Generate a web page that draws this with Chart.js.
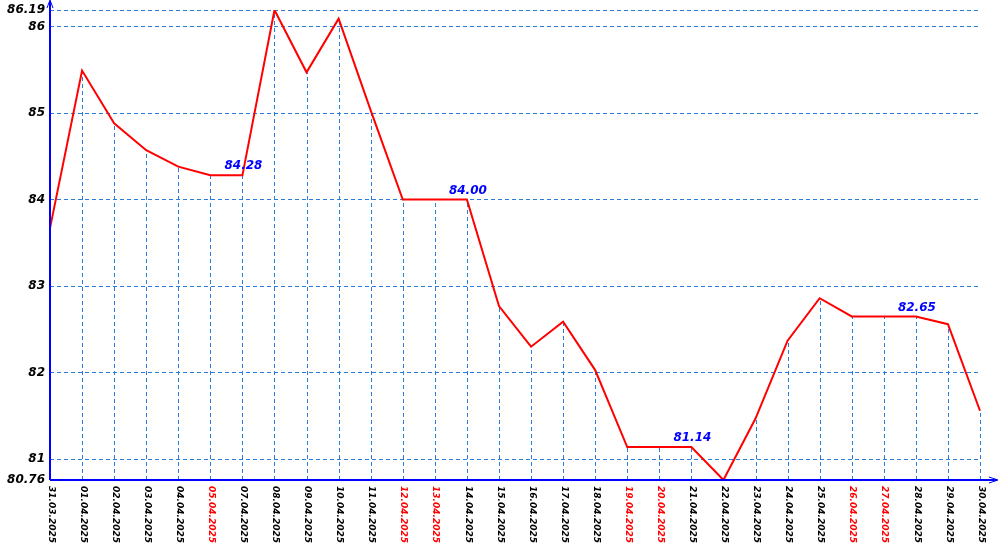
<!DOCTYPE html>
<html>
<head>
<meta charset="utf-8">
<script src="https://cdn.jsdelivr.net/npm/chart.js@4"></script>
<style>
  body { margin: 0; background: #fff; }
  #wrap { width: 1000px; height: 550px; }
</style>
</head>
<body>
<div id="wrap"><canvas id="myChart"></canvas></div>
<script>
const dates = ["31.03.2025", "01.04.2025", "02.04.2025", "03.04.2025", "04.04.2025", "05.04.2025",
  "07.04.2025", "08.04.2025", "09.04.2025", "10.04.2025", "11.04.2025", "12.04.2025", "13.04.2025",
  "14.04.2025", "15.04.2025", "16.04.2025", "17.04.2025", "18.04.2025", "19.04.2025", "20.04.2025",
  "21.04.2025", "22.04.2025", "23.04.2025", "24.04.2025", "25.04.2025", "26.04.2025", "27.04.2025",
  "28.04.2025", "29.04.2025", "30.04.2025"];
const rates = [83.67, 85.49, 84.88, 84.57, 84.38, 84.28,
  84.28, 86.19, 85.47, 86.09, 85.03, 84.00, 84.00,
  84.00, 82.77, 82.30, 82.59, 82.03, 81.14, 81.14,
  81.14, 80.76, 81.47, 82.37, 82.86, 82.65, 82.65,
  82.65, 82.56, 81.56];
const holidays = ["05.04.2025", "12.04.2025", "13.04.2025", "19.04.2025", "20.04.2025", "26.04.2025", "27.04.2025"];
const marked = ["07.04.2025", "14.04.2025", "21.04.2025", "28.04.2025"];
const yTicks = [80.76, 81, 82, 83, 84, 85, 86, 86.19];

const gridBlue = "#2a7ddc";
const axisBlue = "#0000ff";
const fontFam = "'DejaVu Sans', Verdana, sans-serif";

const extras = {
  id: "extras",
  beforeDatasetsDraw(chart) {
    const ctx = chart.ctx;
    const xs = chart.scales.x, ys = chart.scales.y;
    const bottom = chart.chartArea.bottom;
    ctx.save();
    ctx.strokeStyle = gridBlue;
    ctx.lineWidth = 1;
    ctx.setLineDash([4, 3]);
    rates.forEach((v, i) => {
      const x = Math.round(xs.getPixelForValue(i)) + 0.5;
      ctx.beginPath();
      ctx.moveTo(x, bottom);
      ctx.lineTo(x, ys.getPixelForValue(v));
      ctx.stroke();
    });
    ctx.restore();
  },
  afterDatasetsDraw(chart) {
    const ctx = chart.ctx;
    const xs = chart.scales.x, ys = chart.scales.y;
    const area = chart.chartArea;
    ctx.save();
    // axes
    ctx.strokeStyle = axisBlue;
    ctx.lineWidth = 2;
    ctx.beginPath();
    ctx.moveTo(area.left, area.bottom);
    ctx.lineTo(area.left, 1);
    ctx.moveTo(area.left, area.bottom);
    ctx.lineTo(997, area.bottom);
    ctx.stroke();
    ctx.lineWidth = 1;
    ctx.beginPath();
    ctx.moveTo(area.left - 3, 8); ctx.lineTo(area.left, 0); ctx.lineTo(area.left + 3, 8);
    ctx.moveTo(989, area.bottom - 3); ctx.lineTo(998, area.bottom); ctx.lineTo(989, area.bottom + 3);
    ctx.stroke();

    // x labels, rotated clockwise
    ctx.font = "italic bold 9px " + fontFam;
    ctx.textAlign = "left";
    ctx.textBaseline = "middle";
    dates.forEach((d, i) => {
      const x = xs.getPixelForValue(i);
      ctx.save();
      ctx.translate(x + 1, area.bottom + 6);
      ctx.rotate(Math.PI / 2);
      ctx.fillStyle = holidays.includes(d) ? "#ff0000" : "#000000";
      ctx.fillText(d, 0, 0);
      ctx.restore();
    });

    // value marks
    ctx.font = "italic bold 12px " + fontFam;
    ctx.fillStyle = axisBlue;
    ctx.textAlign = "center";
    ctx.textBaseline = "bottom";
    marked.forEach(d => {
      const i = dates.indexOf(d);
      ctx.fillText(rates[i].toFixed(2), xs.getPixelForValue(i) + 1, ys.getPixelForValue(rates[i]) - 3);
    });
    ctx.restore();
  }
};

const config = {
  type: "line",
  data: {
    labels: dates,
    datasets: [{
      data: rates,
      borderColor: "#ff0000",
      borderWidth: 2,
      pointRadius: 0,
      tension: 0,
      fill: false
    }]
  },
  options: {
    responsive: true,
    maintainAspectRatio: false,
    animation: false,
    layout: { padding: { top: 10, right: 20, left: 0, bottom: 0 } },
    plugins: { legend: { display: false }, tooltip: { enabled: false } },
    scales: {
      x: {
        type: "category",
        offset: false,
        grid: { display: false, drawTicks: false },
        border: { display: false },
        ticks: { display: false },
        afterFit(scale) { scale.height = 70; }
      },
      y: {
        min: 80.76,
        max: 86.19,
        afterBuildTicks(scale) { scale.ticks = yTicks.map(v => ({ value: v })); },
        afterFit(scale) {
          scale.width = 50;
          scale.paddingTop = 0;
          scale.paddingBottom = 0;
        },
        grid: { color: gridBlue, lineWidth: 1, drawTicks: false },
        border: { display: false, dash: [4, 3] },
        ticks: {
          padding: 5,
          color: "#000",
          font: { family: fontFam, size: 12, style: "italic", weight: "bold" },
          callback: v => String(v)
        }
      }
    }
  },
  plugins: [extras]
};

new Chart(document.getElementById("myChart"), config);
</script>
</body>
</html>
